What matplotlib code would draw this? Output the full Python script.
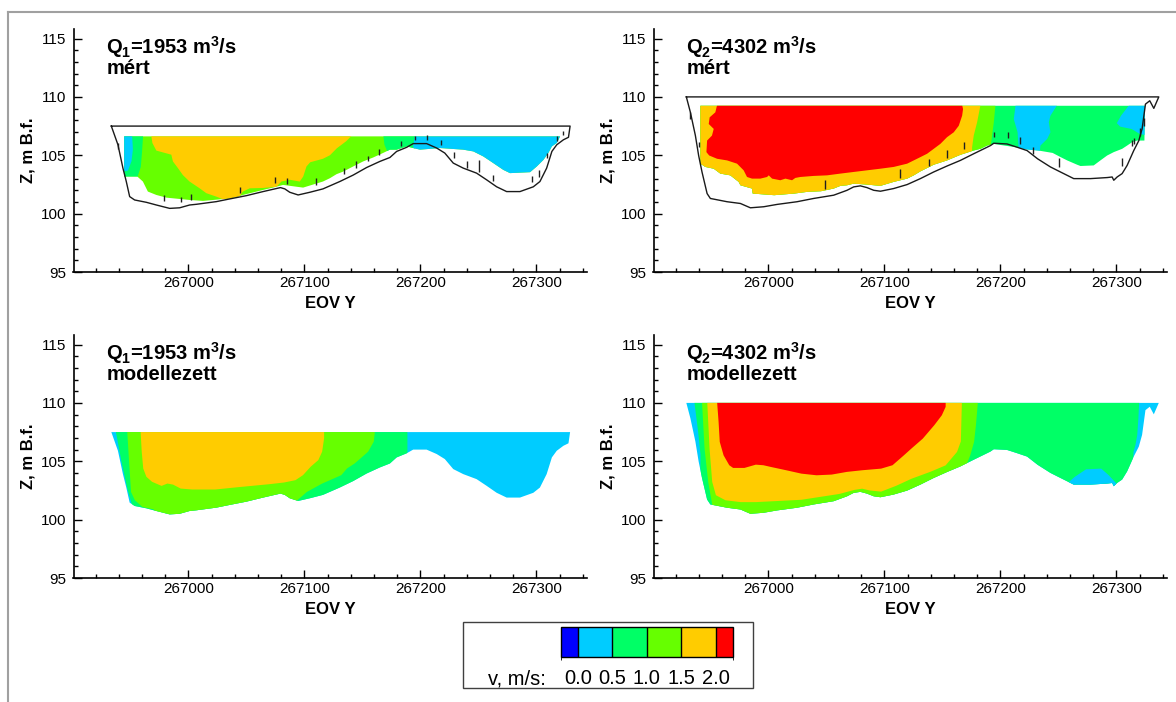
import numpy as np
import matplotlib.pyplot as plt
from matplotlib.patches import Polygon, Rectangle
from matplotlib.colors import ListedColormap, BoundaryNorm
from matplotlib.ticker import MultipleLocator, FixedLocator, FixedFormatter
from matplotlib.lines import Line2D
import matplotlib as mpl

plt.rcParams['font.family'] = ['Liberation Sans', 'DejaVu Sans']
plt.rcParams['mathtext.fontset'] = 'custom'
plt.rcParams['mathtext.rm'] = 'Liberation Sans'
plt.rcParams['mathtext.bf'] = 'Liberation Sans:bold'
plt.rcParams['mathtext.it'] = 'Liberation Sans:italic'

# legend classes, v in m/s
v_bounds = [-0.25, 0.0, 0.5, 1.0, 1.5, 2.0, 2.25]
v_ticks = [0.0, 0.5, 1.0, 1.5, 2.0]
v_colors = ['#0000ff', '#00ccff', '#00ff66', '#66ff00', '#ffcc00', '#ff0000']
CYAN, GREEN, LGREEN, ORANGE, RED = 1, 2, 3, 4, 5

x_ticks = [267000, 267100, 267200, 267300]
x_ticklabels = ['267000', '267100', '267200', '267300']
z_ticks = [95, 100, 105, 110, 115]

titles = [('Q$_\\mathbf{1}$=1953 m$^\\mathbf{3}$/s', 'mért'),
          ('Q$_\\mathbf{2}$=4302 m$^\\mathbf{3}$/s', 'mért'),
          ('Q$_\\mathbf{1}$=1953 m$^\\mathbf{3}$/s', 'modellezett'),
          ('Q$_\\mathbf{2}$=4302 m$^\\mathbf{3}$/s', 'modellezett')]

# river bed, Q1 section (water level 107.5)
q1_bed_y = [266933.6, 266939.3, 266943.6, 266946.5, 266949.4, 266953.7, 266963.8, 266972.4, 266983.9, 266992.5,
            267001.1, 267006.9, 267024.2, 267035.6, 267050.0, 267064.4, 267074.5, 267079.4, 267083.1, 267087.4,
            267094.6, 267104.7, 267116.0, 267130.5, 267142.0, 267153.6, 267165.0, 267173.7, 267179.5, 267188.1,
            267193.8, 267205.3, 267214.0, 267221.0, 267228.3, 267236.9, 267248.4, 267257.0, 267265.7, 267274.3,
            267285.8, 267297.3, 267303.0, 267308.8, 267313.3, 267317.5, 267323.3, 267327.6, 267329.0]
q1_bed_z = [107.5, 105.9, 103.9, 102.75, 101.46, 101.17, 100.97, 100.74, 100.45, 100.5,
            100.74, 100.8, 101.03, 101.26, 101.54, 101.89, 102.12, 102.23, 102.12, 101.83,
            101.6, 101.83, 102.12, 102.75, 103.3, 103.95, 104.47, 104.81, 105.33, 105.68,
            106.0, 106.0, 105.62, 105.19, 104.33, 103.9, 103.47, 102.9, 102.3, 101.89,
            101.89, 102.3, 102.75, 103.9, 105.33, 105.9, 106.33, 106.54, 107.5]

# river bed, Q2 section (water level 110.0)
q2_bed_y = [266929.3, 266932.8, 266937.1, 266939.9, 266942.8, 266947.2, 266950.0, 266964.4, 266975.9, 266984.5,
            266996.0, 267007.5, 267024.7, 267039.0, 267056.3, 267067.8, 267073.5, 267079.3, 267085.0, 267090.8,
            267096.6, 267108.0, 267119.6, 267131.0, 267142.5, 267154.0, 267165.5, 267177.0, 267191.4, 267194.3,
            267205.7, 267214.4, 267223.0, 267232.0, 267243.1, 267251.7, 267263.2, 267277.6, 267292.0, 267296.3,
            267297.7, 267300.6, 267304.9, 267309.2, 267314.9, 267319.3, 267322.1, 267325.0, 267328.7, 267332.2,
            267336.5]
q2_bed_z = [110.0, 108.68, 106.69, 104.98, 103.57, 101.72, 101.3, 101.02, 100.87, 100.5,
            100.59, 100.79, 101.02, 101.3, 101.58, 102.0, 102.29, 102.38, 102.23, 102.0,
            101.92, 102.15, 102.49, 103.0, 103.57, 104.08, 104.56, 105.13, 105.83, 106.03,
            105.97, 105.69, 105.4, 104.7, 104.0, 103.57, 103.0, 103.0, 103.09, 103.14,
            102.86, 103.14, 103.43, 104.13, 105.4, 106.26, 107.26, 109.38, 109.67, 109.02,
            110.0]

# measured (ADCP) data area: top level and lower edge
q1_adcp_top = 106.62
q1_adcp_bot_y = [266944.7, 266956.0, 266960.8, 266965.1, 266972.4, 266981.0, 267001.1, 267012.6, 267035.6, 267042.8,
                 267047.0, 267064.4, 267073.0, 267081.6, 267098.9, 267116.0, 267121.9, 267127.7, 267133.4, 267142.0,
                 267150.6, 267159.3, 267167.9, 267173.7, 267179.5, 267188.1, 267193.8, 267199.6, 267216.8, 267236.9,
                 267245.6, 267254.2, 267262.8, 267271.4, 267277.2, 267294.5, 267300.3, 267306.0, 267310.3, 267313.3,
                 267317.5, 267320.4]
q1_adcp_bot_z = [103.18, 103.18, 102.75, 101.89, 101.6, 101.37, 101.17, 101.09, 101.3, 101.46,
                 101.6, 102.03, 102.23, 102.46, 102.23, 102.75, 103.03, 103.38, 103.6, 104.04,
                 104.47, 104.81, 105.2, 105.48, 105.48, 105.76, 105.62, 105.48, 105.62, 105.48,
                 105.33, 104.9, 104.33, 103.75, 103.47, 103.55, 104.04, 104.6, 105.2, 105.76,
                 106.05, 106.62]

q2_adcp_top = 109.24
q2_adcp_bot_y = [266941.4, 266945.7, 266952.9, 266958.6, 266967.2, 266974.4, 266975.9, 266985.9, 266986.5, 267005.0,
                 267022.3, 267033.8, 267045.3, 267056.3, 267062.1, 267067.8, 267073.5, 267085.0, 267096.6, 267108.0,
                 267119.6, 267125.3, 267131.0, 267142.5, 267154.0, 267165.5, 267177.0, 267182.8, 267188.5, 267194.3,
                 267212.9, 267223.0, 267233.1, 267245.0, 267251.7, 267257.5, 267266.1, 267269.0, 267280.4, 267286.2,
                 267292.0, 267297.7, 267304.9, 267309.2, 267313.5, 267317.8, 267324.1, 267324.6]
q2_adcp_bot_z = [104.28, 104.0, 103.85, 103.43, 103.28, 102.72, 102.43, 102.15, 101.72, 101.58,
                 101.72, 101.87, 101.92, 102.15, 102.38, 102.43, 102.57, 102.49, 102.38, 102.72,
                 103.0, 103.28, 103.62, 104.19, 104.56, 105.04, 105.41, 105.55, 105.83, 105.97,
                 105.69, 105.5, 105.4, 105.2, 104.85, 104.56, 104.19, 104.08, 104.13, 104.56,
                 104.98, 105.27, 105.55, 105.83, 106.12, 106.26, 106.26, 109.24]

# measuring verticals (short marks under the ADCP data)
q1_tick_y = [266939.7, 266978.7, 266994.0, 267002.6, 267044.9, 267074.5, 267084.6, 267109.6, 267134.0, 267144.4,
             267154.4, 267163.9, 267183.2, 267195.3, 267205.9, 267217.7, 267228.9, 267239.9, 267250.7, 267262.8,
             267295.9, 267302.5, 267309.4, 267318.0, 267323.2]
q1_tick_top = [106.05, 101.6, 101.46, 101.66, 102.3, 103.1, 103.03, 103.03, 103.95, 104.47,
               104.98, 105.5, 106.25, 106.62, 106.76, 106.33, 105.25, 104.47, 104.6, 103.3,
               103.2, 103.75, 105.2, 106.62, 107.1]
q1_tick_bot = [105.5, 101.09, 101.03, 101.17, 101.75, 102.6, 102.5, 102.46, 103.38, 103.95,
               104.5, 105.05, 105.76, 106.33, 106.33, 105.85, 104.8, 103.95, 103.6, 102.8,
               102.75, 103.18, 104.75, 106.2, 106.76]

q2_tick_y = [266932.8, 266940.0, 267049.1, 267113.8, 267138.2, 267154.0, 267168.4, 267194.3, 267206.6, 267217.2,
             267228.2, 267250.3, 267304.9, 267313.5, 267315.5, 267320.7, 267323.5]
q2_tick_top = [108.68, 106.12, 102.86, 103.85, 104.7, 105.41, 106.12, 107.03, 107.03, 106.55,
               105.69, 104.76, 104.76, 106.3, 106.5, 107.33, 108.2]
q2_tick_bot = [108.1, 105.7, 102.15, 103.06, 104.08, 104.78, 105.55, 106.55, 106.46, 105.98,
               105.13, 104.0, 104.08, 105.8, 106.0, 106.69, 107.5]

# isovel zones, Q1 measured
q1m_green_l_y = [266944.0, 266961.0, 266960.0, 266959.0, 266956.0, 266944.0]
q1m_green_l_z = [106.7, 106.7, 105.2, 104.0, 103.1, 103.1]
q1m_blue_l_y = [266944.0, 266951.5, 266952.2, 266951.0, 266948.0, 266944.0]
q1m_blue_l_z = [106.7, 106.7, 105.5, 104.5, 103.7, 103.6]
q1m_green_r_y = [267168.0, 267195.3, 267195.3, 267180.0, 267172.0, 267169.0]
q1m_green_r_z = [106.7, 106.7, 105.3, 105.0, 105.2, 105.9]
q1m_blue_r_y = [267195.3, 267330.0, 267330.0, 267194.0, 267193.8]
q1m_blue_r_z = [106.7, 106.7, 100.0, 100.0, 105.9]
q1m_orange_y = [266968.0, 266969.0, 266972.4, 266985.3, 266986.7, 266991.0, 266995.3, 267001.0, 267009.7, 267015.5,
                267024.0, 267035.6, 267042.8, 267047.0, 267052.9, 267064.4, 267076.0, 267080.2, 267087.4, 267096.0,
                267099.0, 267101.8, 267105.0, 267116.0, 267122.0, 267128.0, 267136.0, 267141.0]
q1m_orange_z = [106.7, 106.05, 105.4, 105.05, 104.47, 103.9, 103.3, 102.75, 102.17, 101.75,
                101.46, 101.0, 101.3, 101.89, 102.17, 102.2, 102.3, 102.75, 102.9, 102.75,
                103.18, 104.04, 104.4, 104.7, 105.0, 105.6, 106.2, 106.7]

# isovel zones, Q2 measured
q2m_blue_m_y = [267213.1, 267248.9, 267243.1, 267241.7, 267243.1, 267240.3, 267234.5, 267233.1, 267216.4, 267214.8,
                267211.5]
q2m_blue_m_z = [109.3, 109.3, 108.39, 107.82, 106.97, 106.4, 105.83, 104.5, 104.5, 106.97, 108.1]
q2m_blue_r_y = [267311.0, 267330.0, 267330.0, 267319.7, 267313.1, 267303.3, 267300.3, 267304.0]
q2m_blue_r_z = [109.3, 109.3, 106.6, 106.85, 107.25, 107.45, 107.75, 108.4]
q2m_lgreen_y = [266930.0, 267195.7, 267194.3, 267192.8, 267191.4, 267191.0, 266930.0]
q2m_lgreen_z = [109.3, 109.3, 107.82, 106.69, 105.5, 100.0, 100.0]
q2m_orange_y = [266930.0, 267182.8, 267179.9, 267177.0, 267175.6, 267175.0, 266930.0]
q2m_orange_z = [109.3, 109.3, 107.82, 106.69, 105.69, 100.0, 100.0]
q2m_red_y = [266955.8, 266954.3, 266949.4, 266948.6, 266952.9, 266951.4, 266947.2, 266946.6, 266949.0, 266955.8,
             266964.4, 266973.0, 266978.7, 266981.6, 266985.9, 266993.1, 266998.9, 267000.3, 267003.2, 267010.3,
             267014.7, 267020.4, 267023.3, 267027.6, 267039.0, 267050.6, 267062.1, 267073.5, 267085.0, 267096.6,
             267108.0, 267119.6, 267125.3, 267131.0, 267136.8, 267142.5, 267148.3, 267154.0, 267159.8, 267164.1,
             267167.0, 267167.8, 267167.0]
q2m_red_z = [109.3, 108.68, 108.25, 107.68, 107.26, 106.69, 106.26, 105.27, 104.98, 104.7,
             104.56, 104.28, 103.71, 103.14, 103.0, 103.0, 103.14, 103.28, 103.0, 102.86,
             103.0, 102.86, 103.06, 103.14, 103.23, 103.28, 103.43, 103.57, 103.71, 103.85,
             104.0, 104.28, 104.56, 104.84, 105.13, 105.55, 105.98, 106.55, 106.97, 107.53,
             108.39, 108.96, 109.3]

# isovel zones, Q1 model
q1s_green_y = [266937.4, 267188.8, 267188.8, 266953.0, 266952.2, 266947.3, 266942.3]
q1s_green_z = [107.6, 107.6, 99.0, 99.0, 101.0, 102.7, 105.0]
q1s_lgreen_y = [266947.3, 267160.8, 267159.8, 267154.9, 267148.3, 267143.3, 267136.7, 267131.8, 267125.2, 267115.3,
                267102.1, 267093.9, 267090.0, 266975.0, 266970.3, 266960.5, 266953.9, 266950.6, 266948.9]
q1s_lgreen_z = [107.6, 107.6, 106.68, 105.82, 105.24, 104.81, 104.38, 103.81, 103.52, 103.09,
                102.37, 101.66, 99.0, 99.0, 100.88, 101.08, 101.66, 102.37, 104.96]
q1s_orange_y = [266958.8, 266959.8, 266961.1, 266963.8, 266968.7, 266976.9, 266981.9, 266986.8, 266993.4, 267003.3,
                267023.1, 267042.8, 267069.2, 267082.4, 267092.3, 267098.8, 267105.4, 267112.0, 267115.3, 267117.0,
                267117.0]
q1s_orange_z = [107.6, 105.82, 104.38, 103.67, 103.24, 102.89, 103.09, 103.0, 102.66, 102.58,
                102.58, 102.78, 103.03, 103.18, 103.38, 103.81, 104.53, 105.1, 105.82, 106.97,
                107.6]

# isovel zones, Q2 model
q2s_green_y = [266936.2, 267319.6, 267318.9, 267317.9, 267316.3, 267314.7, 267313.0, 266941.0, 266941.5, 266939.5]
q2s_green_z = [110.1, 110.1, 108.66, 107.23, 106.37, 105.8, 99.0, 99.0, 105.6, 107.5]
q2s_mound_y = [267257.4, 267264.0, 267273.8, 267286.9, 267293.4, 267300.0, 267300.0, 267257.4]
q2s_mound_z = [103.09, 103.66, 104.31, 104.37, 103.8, 103.09, 99.0, 99.0]
q2s_lgreen_y = [266942.8, 267180.6, 267178.9, 267177.3, 267174.0, 267171.7, 267168.0, 266955.0, 266951.6, 266948.2,
                266945.0]
q2s_lgreen_z = [110.1, 110.1, 108.09, 106.66, 105.51, 104.94, 99.0, 99.0, 101.3, 103.2, 106.09]
q2s_orange_y = [266947.3, 266949.3, 266951.6, 266954.8, 266963.0, 266976.1, 266989.2, 267008.8, 267028.5, 267041.5,
                267061.2, 267074.3, 267080.8, 267087.3, 267097.2, 267110.2, 267123.3, 267139.7, 267152.8, 267162.6,
                267165.9, 267166.8]
q2s_orange_z = [110.1, 106.09, 103.23, 102.09, 101.66, 101.5, 101.5, 101.6, 101.7, 101.9,
                102.2, 102.55, 102.65, 102.5, 102.4, 102.9, 103.5, 104.1, 104.65, 105.8,
                106.7, 110.1]
q2s_red_y = [266955.8, 266957.1, 266958.1, 266961.4, 266966.3, 266969.6, 266979.4, 266989.2, 266995.7, 267002.3,
             267015.4, 267028.5, 267041.5, 267054.6, 267067.7, 267080.8, 267097.2, 267107.0, 267116.8, 267123.3,
             267133.1, 267143.0, 267149.5, 267152.8, 267152.8]
q2s_red_z = [110.1, 108.37, 106.66, 105.51, 104.66, 104.43, 104.43, 104.71, 104.66, 104.51,
             104.23, 103.94, 103.8, 103.86, 104.09, 104.23, 104.37, 104.66, 105.51, 106.09,
             106.94, 108.09, 108.94, 109.66, 110.1]

W, H = 1176, 702


def adcp_area(bot_y, bot_z, top):
    y = [bot_y[0]] + list(bot_y) + [bot_y[-1]]
    z = [top] + list(bot_z) + [top]
    return y, z


def draw_section(ax, area_y, area_z, base, zones):
    clip = Polygon(np.column_stack([area_y, area_z]), closed=True, transform=ax.transData)
    ax.fill(area_y, area_z, color=v_colors[base], lw=0)
    for cls, zy, zz in zones:
        for p in ax.fill(zy, zz, color=v_colors[cls], lw=0):
            p.set_clip_path(clip)


def style_axes(ax, title):
    ax.set_xlim(266901, 267344)
    ax.set_ylim(95, 115.8)
    ax.xaxis.set_major_locator(FixedLocator(x_ticks))
    ax.xaxis.set_major_formatter(FixedFormatter(x_ticklabels))
    ax.set_yticks(z_ticks)
    ax.xaxis.set_minor_locator(MultipleLocator(20))
    ax.yaxis.set_minor_locator(MultipleLocator(1))
    ax.tick_params(which='major', direction='in', length=5.5, width=1, labelsize=11)
    ax.tick_params(axis='x', which='major', pad=3)
    ax.tick_params(axis='y', which='major', pad=5)
    ax.tick_params(which='minor', direction='in', length=3, width=1)
    for s in ['top', 'right']:
        ax.spines[s].set_visible(False)
    for s in ['left', 'bottom']:
        ax.spines[s].set_linewidth(1.2)
    ax.set_xlabel('EOV Y', fontweight='bold', fontsize=12, labelpad=4)
    ax.set_ylabel('Z, m B.f.', fontweight='bold', fontsize=12, labelpad=4)
    ax.text(0.064, 0.90, title[0], transform=ax.transAxes, fontsize=14.5, fontweight='bold', va='baseline')
    ax.text(0.064, 0.815, title[1], transform=ax.transAxes, fontsize=14.5, fontweight='bold', va='baseline')


def draw_outline(ax, bed_y, bed_z, tick_y, tick_top, tick_bot):
    ax.vlines(tick_y, tick_bot, tick_top, color='#202020', lw=1)
    ax.plot(list(bed_y) + [bed_y[0]], list(bed_z) + [bed_z[0]], color='#1a1a1a', lw=1)


def draw_legend(fig):
    fig.add_artist(Rectangle((463 / W, 1 - 688 / H), 290 / W, 66 / H, transform=fig.transFigure,
                             fill=False, ec='#404040', lw=1))
    cax = fig.add_axes([560.7 / W, 1 - 657 / H, 172.3 / W, 30 / H])
    cmap = ListedColormap(v_colors)
    norm = BoundaryNorm(v_bounds, cmap.N)
    cb = mpl.colorbar.ColorbarBase(cax, cmap=cmap, norm=norm, orientation='horizontal',
                                   boundaries=v_bounds, spacing='proportional', ticks=v_ticks,
                                   drawedges=True)
    cb.set_ticklabels(['%.1f' % v for v in v_ticks])
    cb.outline.set_linewidth(1)
    cb.dividers.set_linewidth(1)
    cax.tick_params(length=0, labelsize=14.5, pad=9)
    fig.text(546 / W, 1 - 679 / H, 'v, m/s:', ha='right', va='center', fontsize=14.5)


def main():
    fig = plt.figure(figsize=(W / 100, H / 100), dpi=100)
    fig.add_artist(Line2D([8 / W, 1], [1 - 12 / H, 1 - 12 / H], transform=fig.transFigure, color='#a0a0a0', lw=1.5))
    fig.add_artist(Line2D([8 / W, 8 / W], [0, 1 - 12 / H], transform=fig.transFigure, color='#a0a0a0', lw=1.5))

    left = [73.5 / W, 653.5 / W]
    bottom = [1 - 272 / H, 1 - 578 / H]
    aw, ah = 514 / W, 242.8 / H
    ax_tl = fig.add_axes([left[0], bottom[0], aw, ah])
    ax_tr = fig.add_axes([left[1], bottom[0], aw, ah])
    ax_bl = fig.add_axes([left[0], bottom[1], aw, ah])
    ax_br = fig.add_axes([left[1], bottom[1], aw, ah])

    y, z = adcp_area(q1_adcp_bot_y, q1_adcp_bot_z, q1_adcp_top)
    draw_section(ax_tl, y, z, LGREEN, [
        (GREEN, q1m_green_l_y, q1m_green_l_z),
        (CYAN, q1m_blue_l_y, q1m_blue_l_z),
        (GREEN, q1m_green_r_y, q1m_green_r_z),
        (CYAN, q1m_blue_r_y, q1m_blue_r_z),
        (ORANGE, q1m_orange_y, q1m_orange_z)])
    draw_outline(ax_tl, q1_bed_y, q1_bed_z, q1_tick_y, q1_tick_top, q1_tick_bot)

    y, z = adcp_area(q2_adcp_bot_y, q2_adcp_bot_z, q2_adcp_top)
    draw_section(ax_tr, y, z, GREEN, [
        (CYAN, q2m_blue_m_y, q2m_blue_m_z),
        (CYAN, q2m_blue_r_y, q2m_blue_r_z),
        (LGREEN, q2m_lgreen_y, q2m_lgreen_z),
        (ORANGE, q2m_orange_y, q2m_orange_z),
        (RED, q2m_red_y, q2m_red_z)])
    draw_outline(ax_tr, q2_bed_y, q2_bed_z, q2_tick_y, q2_tick_top, q2_tick_bot)

    draw_section(ax_bl, q1_bed_y, q1_bed_z, CYAN, [
        (GREEN, q1s_green_y, q1s_green_z),
        (LGREEN, q1s_lgreen_y, q1s_lgreen_z),
        (ORANGE, q1s_orange_y, q1s_orange_z)])

    draw_section(ax_br, q2_bed_y, q2_bed_z, CYAN, [
        (GREEN, q2s_green_y, q2s_green_z),
        (CYAN, q2s_mound_y, q2s_mound_z),
        (LGREEN, q2s_lgreen_y, q2s_lgreen_z),
        (ORANGE, q2s_orange_y, q2s_orange_z),
        (RED, q2s_red_y, q2s_red_z)])

    for ax, t in zip([ax_tl, ax_tr, ax_bl, ax_br], titles):
        style_axes(ax, t)

    draw_legend(fig)
    fig.savefig('out.png', dpi=100)


if __name__ == '__main__':
    main()
